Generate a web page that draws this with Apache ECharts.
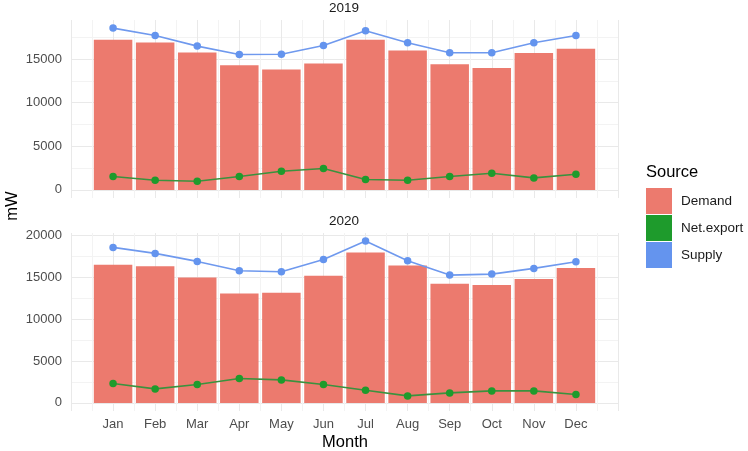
<!DOCTYPE html>
<html>
<head>
<meta charset="utf-8">
<script src="https://cdn.jsdelivr.net/npm/echarts@6/dist/echarts.min.js"></script>
<style>
html,body{margin:0;padding:0;background:#fff;}
#chart{width:748px;height:451px;}
</style>
</head>
<body>
<div id="chart"></div>
<script>
const months = ['Jan','Feb','Mar','Apr','May','Jun','Jul','Aug','Sep','Oct','Nov','Dec'];
const years = ['2019','2020'];
const demand2019 = [17215,16906,15760,14308,13810,14500,17215,15990,14420,13965,15685,16180];
const supply2019 = [18555,17710,16490,15530,15550,16565,18250,16870,15720,15720,16870,17710];
const netexp2019 = [1530,1110,995,1530,2140,2450,1185,1110,1530,1915,1375,1800];
const demand2020 = [16458,16300,14955,13047,13118,15146,17936,16386,14192,14037,14752,16064];
const supply2020 = [18533,17817,16863,15742,15623,17102,19284,16935,15230,15349,16029,16816];
const netexp2020 = [2314,1670,2194,2910,2743,2194,1515,835,1193,1431,1431,1000];
const yTickStep = 5000;

const FONT = 'Liberation Sans, Arial, Helvetica, sans-serif';
const C_DEMAND = '#ec7a6e';
const C_NET = '#1e9b2c';
const C_NET_LINE = '#3a923e';
const C_SUP = '#6494ee';
const C_SUP_LINE = '#6f99ee';

function pts(arr){ return months.map((m,i)=>[i+1, arr[i]]); }
function range(arrs){
  const mx = Math.max(...arrs.flat());
  const mn = 0;
  const pad = (mx - mn) * 0.05;
  return [mn - pad, mx + pad];
}
const r2019 = range([demand2019, supply2019, netexp2019]);
const r2020 = range([demand2020, supply2020, netexp2020]);

const grids = [
  {left:71, right:130, top:20, height:178},
  {left:71, right:130, top:233, height:178}
];

function xAxis(i, showLabels){
  return {
    type:'value', gridIndex:i, min:0, max:months.length+1, interval:1,
    axisLine:{show:false}, axisTick:{show:false},
    axisLabel:{show:showLabels, margin:7, fontSize:13, color:'#4d4d4d', fontFamily:FONT,
      formatter:v => (v>=1 && v<=months.length) ? months[v-1] : ''},
    splitLine:{show:true, lineStyle:{color:'#e9e9e9', width:1}},
    minorTick:{show:false, splitNumber:2},
    minorSplitLine:{show:true, lineStyle:{color:'#f3f3f3', width:1}}
  };
}
function yAxis(i, r){
  return {
    type:'value', gridIndex:i, min:r[0], max:r[1],
    axisLine:{show:false}, axisTick:{show:false},
    axisLabel:{margin:9, fontSize:13, color:'#4d4d4d', fontFamily:FONT,
      showMinLabel:false, showMaxLabel:false,
      formatter:v => (Math.abs(v % yTickStep) < 1e-6 ? String(v) : '')},
    splitLine:{show:true, showMinLine:false, showMaxLine:false, lineStyle:{color:'#e9e9e9', width:1}},
    minorTick:{show:false, splitNumber:2},
    minorSplitLine:{show:true, lineStyle:{color:'#f3f3f3', width:1}}
  };
}
function barS(i, arr){
  return {name:'Demand', type:'bar', xAxisIndex:i, yAxisIndex:i, data:pts(arr),
    barWidth:38.5, itemStyle:{color:C_DEMAND}, z:2};
}
function lineS(i, name, arr, c, lc){
  return {name:name, type:'line', xAxisIndex:i, yAxisIndex:i, data:pts(arr),
    symbol:'circle', symbolSize:7.5, itemStyle:{color:c},
    lineStyle:{color:lc, width:1.6}, z:3};
}

const chart = echarts.init(document.getElementById('chart'), null, {renderer:'canvas'});
chart.setOption({
  backgroundColor:'#ffffff',
  animation:false,
  textStyle:{fontFamily:FONT},
  grid:grids,
  title:[
    {text:years[0], left:344, top:1, padding:0, textAlign:'center', textStyle:{fontSize:13.5, fontWeight:'normal', color:'#1a1a1a', fontFamily:FONT}},
    {text:years[1], left:344, top:214, padding:0, textAlign:'center', textStyle:{fontSize:13.5, fontWeight:'normal', color:'#1a1a1a', fontFamily:FONT}},
    {text:'Source', left:646, top:164, padding:0, textStyle:{fontSize:16.5, fontWeight:'normal', color:'#000', fontFamily:FONT}}
  ],
  legend:{
    orient:'vertical', left:646, top:188, padding:0, itemWidth:26, itemHeight:26, itemGap:1,
    textStyle:{fontSize:13.5, color:'#1a1a1a', fontFamily:FONT, padding:[0,0,0,4]},
    data:[
      {name:'Demand', icon:'rect', itemStyle:{color:C_DEMAND}},
      {name:'Net.export', icon:'rect', itemStyle:{color:C_NET}},
      {name:'Supply', icon:'rect', itemStyle:{color:C_SUP}}
    ]
  },
  xAxis:[xAxis(0,false), xAxis(1,true)],
  yAxis:[yAxis(0,r2019), yAxis(1,r2020)],
  series:[
    barS(0, demand2019),
    lineS(0,'Net.export', netexp2019, C_NET, C_NET_LINE),
    lineS(0,'Supply', supply2019, C_SUP, C_SUP_LINE),
    barS(1, demand2020),
    lineS(1,'Net.export', netexp2020, C_NET, C_NET_LINE),
    lineS(1,'Supply', supply2020, C_SUP, C_SUP_LINE)
  ],
  graphic:[
    {type:'text', x:12, y:206, rotation:Math.PI/2,
      style:{text:'mW', fontSize:16.5, fill:'#000', fontFamily:FONT, align:'center', verticalAlign:'middle'}},
    {type:'text', x:345, y:442,
      style:{text:'Month', fontSize:16.5, fill:'#000', fontFamily:FONT, align:'center', verticalAlign:'middle'}}
  ]
});
</script>
</body>
</html>
